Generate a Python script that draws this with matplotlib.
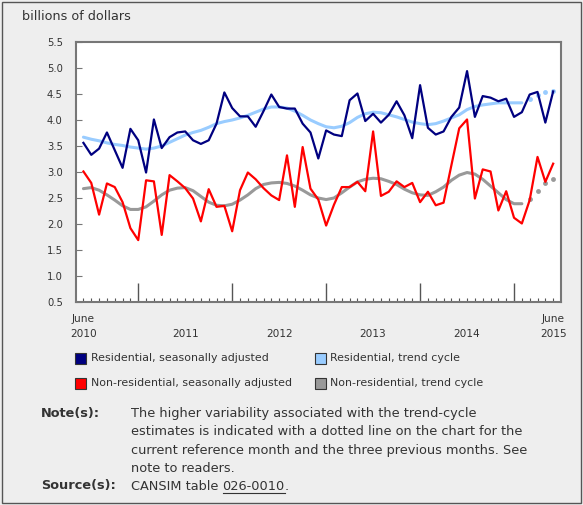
import numpy as np
import matplotlib
matplotlib.use("Agg")
import matplotlib.pyplot as plt
from matplotlib.patches import Rectangle
from matplotlib.lines import Line2D

# monthly values, June 2010 to June 2015 (billions of dollars)
res_sa = [3.56, 3.33, 3.45, 3.76, 3.42, 3.08, 3.83, 3.61, 2.99, 4.01, 3.46, 3.67,
          3.76, 3.78, 3.61, 3.54, 3.61, 3.93, 4.53, 4.23, 4.07, 4.07, 3.87, 4.17,
          4.49, 4.25, 4.22, 4.22, 3.93, 3.76, 3.26, 3.80, 3.72, 3.69, 4.38, 4.51,
          3.98, 4.12, 3.95, 4.10, 4.36, 4.09, 3.65, 4.67, 3.85, 3.72, 3.78, 4.06,
          4.24, 4.94, 4.06, 4.46, 4.43, 4.36, 4.41, 4.06, 4.15, 4.49, 4.54, 3.95,
          4.55]
res_trend = [3.67, 3.63, 3.60, 3.56, 3.53, 3.51, 3.48, 3.46, 3.44, 3.46, 3.50, 3.57,
             3.64, 3.71, 3.76, 3.80, 3.86, 3.93, 3.97, 4.00, 4.04, 4.09, 4.15, 4.21,
             4.25, 4.25, 4.23, 4.17, 4.09, 4.00, 3.93, 3.87, 3.85, 3.88, 3.95, 4.05,
             4.12, 4.15, 4.14, 4.10, 4.06, 4.01, 3.96, 3.93, 3.91, 3.93, 3.98, 4.04,
             4.10, 4.20, 4.26, 4.29, 4.31, 4.33, 4.33, 4.33, 4.33, 4.40, 4.49, 4.53,
             4.56]
nonres_sa = [3.01, 2.79, 2.18, 2.78, 2.71, 2.42, 1.92, 1.69, 2.84, 2.82, 1.79, 2.94,
             2.82, 2.69, 2.49, 2.05, 2.67, 2.33, 2.35, 1.86, 2.65, 2.99, 2.86, 2.69,
             2.55, 2.46, 3.32, 2.33, 3.48, 2.68, 2.47, 1.97, 2.37, 2.71, 2.71, 2.81,
             2.63, 3.78, 2.54, 2.62, 2.82, 2.71, 2.79, 2.42, 2.62, 2.36, 2.41, 3.13,
             3.84, 4.01, 2.49, 3.05, 3.01, 2.26, 2.63, 2.12, 2.01, 2.46, 3.29, 2.81,
             3.16]
nonres_trend = [2.68, 2.70, 2.65, 2.56, 2.46, 2.35, 2.28, 2.28, 2.33, 2.44, 2.56, 2.65,
                2.69, 2.70, 2.64, 2.53, 2.42, 2.36, 2.35, 2.38, 2.46, 2.56, 2.68, 2.76,
                2.79, 2.80, 2.78, 2.73, 2.65, 2.56, 2.50, 2.47, 2.50, 2.60, 2.71, 2.81,
                2.86, 2.88, 2.87, 2.82, 2.76, 2.67, 2.60, 2.56, 2.55, 2.62, 2.71, 2.84,
                2.94, 2.99, 2.96, 2.86, 2.73, 2.60, 2.47, 2.39, 2.39, 2.49, 2.63, 2.78,
                2.86]
n_dotted = 4  # last four trend-cycle months are dotted
year_labels = ["2010", "2011", "2012", "2013", "2014", "2015"]
year_label_pos = [0, 13, 25, 37, 49, 60]
month_labels = ["June", "", "", "", "", "June"]
yticks = [0.5, 1.0, 1.5, 2.0, 2.5, 3.0, 3.5, 4.0, 4.5, 5.0, 5.5]

navy = "#000080"
lblue = "#99ccff"
red = "#ff0000"
grey = "#999999"
txt = "#333333"

W, H = 583, 505
x = np.arange(len(res_sa))
cut = len(x) - n_dotted

fig = plt.figure(figsize=(W / 100, H / 100), dpi=100)
fig.patch.set_facecolor("#eeeeee")
fig.add_artist(Rectangle((0.004, 0.004), 0.992, 0.992, transform=fig.transFigure,
                         fill=False, edgecolor="#555555", lw=1))

ax = fig.add_axes([76 / W, 1 - 302 / H, 485 / W, 260 / H])
ax.set_facecolor("white")

ax.plot(x[:cut], res_trend[:cut], color=lblue, lw=2.2, solid_capstyle="round")
ax.plot(x[cut:], res_trend[cut:], "o", color=lblue, ms=3.5, mew=0)
ax.plot(x[:cut], nonres_trend[:cut], color=grey, lw=2.2, solid_capstyle="round")
ax.plot(x[cut:], nonres_trend[cut:], "o", color=grey, ms=3.5, mew=0)
ax.plot(x, res_sa, color=navy, lw=1.6)
ax.plot(x, nonres_sa, color=red, lw=1.6)

ax.set_xlim(-0.95, 61.0)
ax.set_ylim(0.5, 5.5)
ax.set_yticks(yticks)
ax.set_yticklabels(["%.1f" % v for v in yticks], fontsize=7.2, color=txt)
ax.set_xticks([m for m in x if (m + 5) % 12 == 0])
ax.set_xticks(x, minor=True)
ax.set_xticklabels([])
ax.tick_params(axis="y", direction="in", length=4, color="#777777", pad=9.5)
ax.tick_params(axis="x", which="major", direction="in", length=14, color="#555555", width=1)
ax.tick_params(axis="x", which="minor", direction="in", length=3, color="#555555", width=0.8)
for s in ax.spines.values():
    s.set_color("#777777")
    s.set_linewidth(1.5)

xt = ax.get_xaxis_transform()
for yl, ml, p in zip(year_labels, month_labels, year_label_pos):
    if ml:
        ax.text(p, -16.5 / 260, ml, transform=xt, ha="center", va="center",
                fontsize=7.6, color=txt)
    ax.text(p, -32 / 260, yl, transform=xt, ha="center", va="center",
            fontsize=7.6, color=txt)

fig.text(22 / W, 1 - 17 / H, "billions of dollars", fontsize=9.2, color=txt, va="center")

# legend
legend_items = [("Residential, seasonally adjusted", navy, 75, 358),
                ("Residential, trend cycle", lblue, 315, 358),
                ("Non-residential, seasonally adjusted", red, 75, 383),
                ("Non-residential, trend cycle", grey, 315, 383)]
for label, col, px, py in legend_items:
    fig.add_artist(Rectangle((px / W, 1 - (py + 5.5) / H), 11 / W, 11 / H,
                             transform=fig.transFigure, facecolor=col,
                             edgecolor="#333333", lw=0.8))
    fig.text((px + 15.5) / W, 1 - py / H, label, fontsize=7.9, color=txt, va="center")

note = ["The higher variability associated with the trend-cycle",
        "estimates is indicated with a dotted line on the chart for the",
        "current reference month and the three previous months. See",
        "note to readers."]
fs = 9.3
fig.text(41 / W, 1 - 413.5 / H, "Note(s):", fontsize=fs, fontweight="bold",
         color=txt, va="center")
for k, line in enumerate(note):
    fig.text(131 / W, 1 - (413.5 + 18.3 * k) / H, line, fontsize=fs, color=txt, va="center")
fig.text(41 / W, 1 - 486 / H, "Source(s):", fontsize=fs, fontweight="bold",
         color=txt, va="center")
t1 = fig.text(131 / W, 1 - 486 / H, "CANSIM table ", fontsize=fs, color=txt, va="center")
fig.canvas.draw()
r = fig.canvas.get_renderer()
x0 = t1.get_window_extent(r).x1 / fig.bbox.width
t2 = fig.text(x0, 1 - 486 / H, "026-0010", fontsize=fs, color=txt, va="center")
x1 = t2.get_window_extent(r).x1 / fig.bbox.width
fig.text(x1, 1 - 486 / H, ".", fontsize=fs, color=txt, va="center")
uy = 1 - 493 / H
fig.add_artist(Line2D([x0, x1], [uy, uy], transform=fig.transFigure, color=txt, lw=0.8))

fig.savefig("out.png", dpi=100, facecolor=fig.get_facecolor())
